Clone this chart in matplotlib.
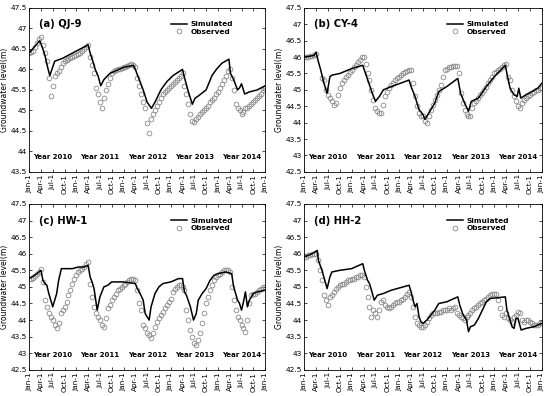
import numpy as np
import matplotlib
matplotlib.use("Agg")
import matplotlib.pyplot as plt

# months since Jan-1 2010, observations every half month
t_obs = np.arange(0, 60.5, 0.5)

# ---- (a) QJ-9
obs_a = [46.40,46.42,46.45,46.55,46.65,46.75,46.80,46.60,46.40,46.20,45.80,45.35,45.60,45.85,45.90,45.95,46.05,46.15,46.20,46.22,46.25,46.28,46.30,46.32,
         46.35,46.38,46.40,46.45,46.50,46.55,46.60,46.30,46.10,45.90,45.55,45.40,45.20,45.05,45.30,45.50,45.65,45.80,45.90,45.95,45.98,46.00,46.02,46.03,
         46.05,46.07,46.08,46.10,46.12,46.10,46.05,45.80,45.60,45.40,45.20,45.05,44.70,44.45,44.80,44.90,45.00,45.10,45.20,45.30,45.40,45.45,45.50,45.55,
         45.60,45.65,45.70,45.75,45.80,45.85,45.90,45.60,45.40,45.15,44.90,44.75,44.72,44.80,44.85,44.90,44.95,45.00,45.05,45.10,45.20,45.25,45.30,45.40,
         45.45,45.55,45.65,45.75,45.85,45.95,46.00,45.80,45.50,45.15,45.05,45.00,44.90,44.95,45.05,45.05,45.10,45.15,45.20,45.25,45.30,45.35,45.40,45.50,
         45.55]
sim_a_t = [0,2.7,3.3,4,4.7,5.25,6.5,8.5,15,15.5,16.2,16.8,17.5,18.2,19,20.5,24,26.5,27,28,29,30,31.1,32,33.5,35,36.6,39,39.5,40.5,41.5,42.2,43,45,46.5,47.6,49,50.8,51.2,52,53,53.5,54,54.8,56,58,60]
sim_a = [46.4,46.7,46.55,46.35,46.05,45.85,46.2,46.27,46.6,46.4,46.2,46.0,45.85,45.6,45.75,45.9,46.05,46.1,46.0,45.75,45.5,45.2,45.05,45.2,45.5,45.7,45.85,46.0,45.8,45.45,45.15,45.3,45.35,45.5,45.85,46.0,46.15,46.25,45.9,45.75,45.5,45.55,45.65,45.4,45.45,45.5,45.6]

# ---- (b) CY-4
obs_b = [46.00,46.00,46.00,46.02,46.03,46.05,46.10,np.nan,np.nan,45.35,45.30,45.00,44.85,44.75,44.65,44.55,44.60,44.85,45.05,45.20,45.30,45.40,45.45,45.55,
         45.60,45.70,45.75,45.85,45.90,46.00,46.00,45.80,45.50,45.30,45.00,44.70,44.45,44.35,44.30,44.30,44.55,44.80,44.95,45.05,45.15,45.20,45.30,45.35,
         45.40,45.45,45.50,45.55,45.58,45.60,45.60,45.20,44.80,44.50,44.30,44.20,44.20,44.05,44.00,44.20,44.40,44.55,44.70,44.85,45.00,45.15,45.40,45.60,
         45.65,45.70,45.70,45.72,45.72,45.72,45.50,44.90,44.60,44.40,44.25,44.20,44.20,44.45,44.60,44.65,44.75,44.85,44.90,45.00,45.10,45.20,45.30,45.40,
         45.50,45.55,45.60,45.65,45.70,45.75,45.80,45.40,45.30,45.00,44.80,44.65,44.50,44.45,44.60,44.70,44.75,44.80,44.85,44.90,44.95,45.00,45.00,45.05,
         45.05]
sim_b_t = [0,2.5,3,3.5,4.2,5,5.8,6.5,7,9,12,14.8,15.5,16.5,17.2,18,19,20,22,26.5,27,28,29,30,30.5,31.5,33,34,36,38.8,39.5,40.5,41.5,42.2,44,46,48,50.8,51.2,52,53,53.8,54.2,54.7,56,59,60]
sim_b = [46.0,46.05,46.15,45.9,45.6,45.2,44.9,45.4,45.45,45.5,45.65,45.75,45.5,45.15,44.9,44.65,44.8,45.0,45.1,45.3,45.1,44.8,44.4,44.25,44.1,44.3,44.6,44.95,45.1,45.35,44.9,44.6,44.35,44.65,44.75,45.1,45.4,45.75,45.5,45.05,44.85,44.8,45.05,44.75,44.85,45.05,45.2]

# ---- (c) HW-1
obs_c = [45.25,45.25,45.28,45.32,45.40,45.45,45.55,45.15,44.60,44.40,44.20,44.10,44.00,43.85,43.75,43.90,44.20,44.30,44.40,44.55,44.75,44.90,45.10,45.25,
         45.35,45.45,45.50,45.55,45.60,45.70,45.75,45.10,44.70,44.40,44.20,44.10,44.00,43.85,43.80,44.05,44.35,44.45,44.60,44.70,44.80,44.90,44.95,45.00,
         45.05,45.10,45.15,45.20,45.25,45.25,45.20,44.90,44.50,44.30,43.85,43.75,43.60,43.55,43.45,43.60,43.80,43.95,44.05,44.15,44.25,44.35,44.45,44.55,
         44.65,44.85,44.95,45.00,45.05,45.05,45.00,44.90,44.30,44.00,43.70,43.50,43.30,43.25,43.40,43.60,43.90,44.20,44.50,44.70,44.90,45.05,45.20,45.30,
         45.35,45.40,45.45,45.50,45.50,45.50,45.45,45.00,44.60,44.30,44.10,44.00,43.85,43.75,43.65,44.00,44.50,44.75,44.80,44.80,44.85,44.90,44.95,45.00,
         45.00]
sim_c_t = [0,2,3,3.5,4,4.5,5,5.5,6,7,7.5,8.2,9,11,12.5,14,15,15.5,16,16.5,17.3,18,19,20,21,24,27,27.5,28,29,29.5,30,30.5,31,32,33,34,36,38,39,39.5,40,41,41.8,42.5,43,44,45,46,47,48,50,51.5,52,52.5,53,53.5,54,54.5,55,55.5,56,57,58,60]
sim_c = [45.25,45.4,45.5,45.2,45.1,45.05,44.8,44.6,44.4,44.8,45.2,45.55,45.55,45.55,45.6,45.6,45.65,45.3,45.15,44.95,44.3,44.7,45.0,45.05,45.15,45.15,45.1,44.95,44.85,44.6,44.2,44.1,44.0,44.4,44.8,45.0,45.1,45.15,45.25,45.25,44.85,44.75,44.4,44.0,44.2,44.6,44.8,44.95,45.2,45.35,45.4,45.45,45.4,45.0,44.8,44.6,44.5,44.3,44.55,44.85,44.4,44.6,44.8,44.85,44.9]

# ---- (d) HH-2
obs_d = [45.90,45.90,45.95,45.95,46.00,46.00,46.00,45.80,45.50,45.20,44.75,44.60,44.45,44.70,44.75,44.85,44.95,45.00,45.05,45.10,45.10,45.15,45.20,45.20,
         45.25,45.25,45.30,45.30,45.35,45.35,45.30,45.00,44.70,44.40,44.10,44.30,44.20,44.10,44.30,44.55,44.60,44.45,44.40,44.35,44.40,44.45,44.50,44.55,
         44.55,44.60,44.65,44.70,44.80,44.85,44.70,44.40,44.10,43.90,43.85,43.80,43.80,43.85,43.95,44.05,44.15,44.20,44.20,44.20,44.25,44.25,44.30,44.30,
         44.30,44.35,44.30,44.35,44.40,44.20,44.15,44.10,44.05,44.00,44.10,44.15,44.20,44.30,44.35,44.40,44.45,44.50,44.55,44.60,44.65,44.70,44.75,44.80,
         44.80,44.80,44.60,44.35,44.15,44.10,44.20,44.05,44.00,43.95,44.10,44.15,44.25,44.20,44.00,43.95,44.00,44.00,43.95,43.90,43.85,43.85,43.85,43.90,
         43.90]
sim_d_t = [0,2,3.3,3.6,4.5,5.2,5.8,6.5,7,9,12,14.8,15.2,16,16.5,17,17.7,18.5,20,22,26.5,27,27.5,28,28.5,29,29.5,30,31,32,33,34,36,38.8,39.3,40,41,41.5,42,43,44,45,46,47,50.8,51.2,52,52.5,53,53.5,54,54.8,56,58,60]
sim_d = [45.9,46.0,46.1,45.8,45.5,45.2,44.95,45.3,45.45,45.5,45.55,45.7,45.5,45.2,45.1,44.9,44.6,44.75,44.8,44.9,45.05,44.85,44.6,44.4,44.5,44.1,43.95,43.9,44.0,44.15,44.3,44.5,44.55,44.7,44.45,44.2,44.0,43.65,43.8,43.85,44.05,44.3,44.55,44.65,44.7,44.3,44.0,43.8,43.75,44.05,44.05,43.7,43.75,43.8,43.9]

panels = [
    ("(a) QJ-9", obs_a, sim_a_t, sim_a, 43.5),
    ("(b) CY-4", obs_b, sim_b_t, sim_b, 42.5),
    ("(c) HW-1", obs_c, sim_c_t, sim_c, 42.5),
    ("(d) HH-2", obs_d, sim_d_t, sim_d, 42.5),
]
years = ["Year 2010", "Year 2011", "Year 2012", "Year 2013", "Year 2014"]
tick_labels = ["Jan-1", "Apr-1", "Jul-1", "Oct-1"] * 5 + ["Jan-1"]

# axes boxes in figure fractions [left, bottom, width, height]
boxes = [
    [0.053, 0.566, 0.429, 0.414],
    [0.553, 0.566, 0.432, 0.414],
    [0.053, 0.066, 0.429, 0.419],
    [0.553, 0.066, 0.432, 0.419],
]

fig = plt.figure(figsize=(5.5, 3.96), dpi=100)
for (title, obs, st, sv, ymin), box in zip(panels, boxes):
    ax = fig.add_axes(box)
    ax.plot(st, sv, color="black", lw=1.1, label="Simulated", zorder=3)
    ax.plot(t_obs, obs, linestyle="none", marker="o", ms=3.4, mfc="none",
            mec="#8a8a8a", mew=0.6, label="Observed", zorder=2)
    ax.set_xlim(0, 60)
    ax.set_ylim(ymin, 47.5)
    ax.set_yticks(np.arange(ymin, 47.51, 0.5))
    ax.set_yticklabels(["%g" % v for v in np.arange(ymin, 47.51, 0.5)])
    ax.set_xticks(np.arange(0, 61, 3))
    ax.set_xticklabels(tick_labels, rotation=90)
    ax.tick_params(direction="in", top=True, right=True, labelsize=5.3,
                   length=2.5, width=0.5, pad=1.5)
    for s in ax.spines.values():
        s.set_linewidth(0.6)
    ax.set_ylabel("Groundwater level(m)", fontsize=5.5, labelpad=1)
    ax.text(0.04, 0.9, title, transform=ax.transAxes, fontsize=7.2,
            fontweight="bold", va="center")
    for i, y in enumerate(years):
        ax.text(6 + 12 * i, 0.09, y, transform=ax.get_xaxis_transform(),
                ha="center", va="center", fontsize=5, fontweight="bold")
    ax.legend(loc="upper left", bbox_to_anchor=(0.58, 0.95), frameon=False,
              prop={"size": 5.3, "weight": "bold"}, handlelength=2.2,
              handletextpad=0.4, labelspacing=0.2, borderpad=0.2)

fig.savefig("out.png", dpi=100)
